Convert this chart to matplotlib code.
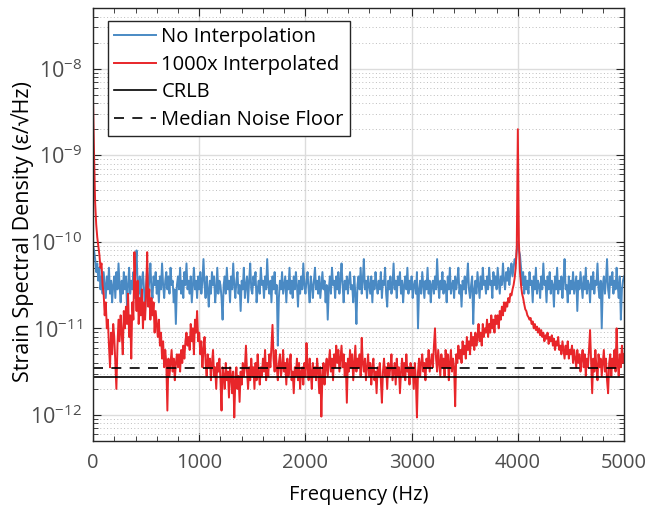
import matplotlib
matplotlib.use("Agg")
import matplotlib.pyplot as plt
import numpy as np
from matplotlib.ticker import MultipleLocator, LogLocator, NullFormatter

plt.rcParams['font.family'] = ['Open Sans', 'DejaVu Sans']

# frequency grid (Hz), one value every 10 Hz
freq = np.arange(0, 5001, 10)

# log10 of strain spectral density
no_interp_log = [
    -10.05, -10.10, -10.20, -10.35, -10.25, -10.45, -10.30, -10.55, -10.40, -10.60,
    -10.35, -10.50, -10.65, -10.40, -10.55, -10.30, -10.60, -10.45, -10.70, -10.50,
    -10.40, -10.65, -10.35, -10.55, -10.25, -10.50, -10.70, -10.45, -10.60, -10.35,
    -10.55, -10.40, -10.75, -10.50, -10.30, -10.60, -10.45, -10.55, -10.35, -10.65,
    -10.30, -10.10, -10.50, -10.60, -10.40, -10.70, -10.45, -10.35, -10.55, -10.80,
    -10.50, -10.30, -10.60, -10.45, -10.25, -10.55, -10.65, -10.40, -10.50, -10.35,
    -10.60, -10.45, -10.70, -10.40, -10.55, -10.25, -10.50, -10.65, -10.45, -10.35,
    -10.55, -10.40, -10.60, -10.30, -10.50, -10.45, -10.70, -10.55, -10.95, -10.50,
    -10.40, -10.55, -10.30, -10.60, -10.45, -10.65, -10.35, -10.50, -10.25, -10.55,
    -10.45, -10.60, -10.40, -10.70, -10.50, -10.30, -10.55, -10.45, -10.65, -10.40,
    -10.55, -10.35, -10.60, -10.45, -10.20, -10.50, -10.65, -10.40, -10.55, -10.75,
    -10.45, -10.60, -10.35, -10.50, -10.40, -10.70, -10.55, -10.30, -10.60, -10.45,
    -10.50, -10.65, -10.90, -10.50, -10.40, -10.60, -10.30, -10.55, -10.45, -10.70,
    -10.40, -10.55, -10.25, -10.50, -10.65, -10.45, -10.35, -10.60, -10.50, -10.80,
    -10.45, -10.55, -10.30, -10.65, -10.50, -10.40, -10.70, -10.45, -10.25, -10.55,
    -10.60, -10.40, -10.50, -10.35, -10.70, -10.55, -10.45, -10.60, -10.30, -10.50,
    -10.45, -10.65, -10.40, -10.55, -10.20, -10.50, -10.60, -10.45, -10.70, -10.40,
    -10.55, -10.35, -10.60, -10.50, -11.20, -10.65, -10.45, -10.55, -10.35, -10.60,
    -10.50, -10.40, -10.70, -10.45, -10.55, -10.30, -10.60, -10.45, -10.65, -10.40,
    -10.55, -10.35, -10.50, -10.75, -10.45, -10.60, -10.40, -10.55, -10.25, -10.50,
    -10.60, -10.45, -10.35, -10.55, -10.70, -10.40, -10.50, -10.65, -10.45, -10.30,
    -10.55, -10.45, -10.60, -10.40, -10.65, -10.50, -10.35, -10.55, -10.45, -10.70,
    -10.50, -10.90, -10.55, -10.40, -10.60, -10.30, -10.50, -10.45, -10.65, -10.40,
    -10.55, -10.35, -10.60, -10.45, -10.25, -10.50, -10.70, -10.45, -10.55, -10.40,
    -10.60, -10.45, -10.35, -10.55, -10.50, -10.70, -10.40, -10.60, -10.95, -10.50,
    -10.40, -10.55, -10.30, -10.60, -10.45, -10.20, -10.55, -10.45, -10.65, -10.40,
    -10.50, -10.60, -10.40, -10.70, -10.45, -10.55, -10.35, -10.50, -10.60, -10.45,
    -10.55, -10.35, -10.65, -10.45, -10.50, -10.30, -10.60, -10.75, -10.45, -10.55,
    -10.40, -10.60, -10.50, -10.25, -10.55, -10.45, -10.65, -10.40, -10.50, -10.35,
    -10.60, -10.45, -10.70, -10.50, -10.40, -10.55, -10.30, -10.60, -10.45, -10.55,
    -10.40, -10.65, -10.50, -10.45, -10.60, -10.35, -11.00, -10.55, -10.45, -10.60,
    -10.35, -10.50, -10.65, -10.45, -10.55, -10.30, -10.60, -10.45, -10.70, -10.50,
    -10.45, -10.60, -10.40, -10.55, -10.20, -10.50, -10.65, -10.45, -10.55, -10.35,
    -10.60, -10.45, -10.50, -10.70, -10.40, -10.55, -10.30, -10.60, -10.50, -10.45,
    -10.65, -10.40, -10.55, -10.45, -10.30, -10.60, -10.50, -10.75, -10.45, -10.55,
    -10.40, -10.60, -10.45, -10.25, -10.55, -10.65, -10.50, -10.40, -10.95, -10.55,
    -10.45, -10.60, -10.35, -10.50, -10.65, -10.40, -10.55, -10.30, -10.50, -10.45,
    -10.60, -10.40, -10.55, -10.30, -10.50, -10.45, -10.65, -10.35, -10.50, -10.40,
    -10.55, -10.30, -10.45, -10.60, -10.40, -10.50, -10.25, -10.45, -10.55, -10.35,
    -10.45, -10.30, -10.50, -10.35, -10.25, -10.40, -10.30, -10.20, -10.25, -10.10,
    -10.00, -10.10, -10.15, -10.30, -10.50, -10.35, -10.60, -10.40, -10.55, -10.45,
    -10.60, -10.35, -10.50, -10.45, -10.70, -10.40, -10.55, -10.30, -10.60, -10.45,
    -10.50, -10.65, -10.40, -10.55, -10.25, -10.50, -10.45, -10.70, -10.40, -10.55,
    -10.35, -10.60, -10.45, -10.50, -10.75, -10.40, -10.55, -10.30, -10.60, -10.45,
    -10.55, -10.40, -10.65, -10.45, -10.20, -10.55, -10.50, -10.70, -10.40, -10.60,
    -10.45, -10.55, -10.35, -10.60, -10.50, -10.40, -10.80, -10.45, -10.55, -10.35,
    -10.50, -10.65, -10.40, -10.55, -10.30, -10.60, -10.45, -10.50, -10.70, -10.40,
    -10.55, -10.35, -10.60, -10.45, -10.50, -10.25, -10.55, -10.65, -10.45, -11.00,
    -10.50, -10.40, -10.60, -10.45, -10.20, -10.55, -10.65, -10.40, -10.50, -10.35,
    -10.60, -10.45, -10.55, -10.30, -10.50, -10.65, -10.40, -10.90, -10.55, -10.45,
    -10.40,
]

interp_log = [
    -8.37, -9.00, -9.55, -9.80, -9.95, -10.05, -10.15, -10.30, -10.25, -10.50,
    -10.60, -10.85, -10.70, -11.00, -10.90, -11.20, -11.45, -11.05, -11.30, -10.95,
    -11.10, -11.40, -11.70, -11.20, -10.90, -11.15, -10.85, -11.05, -11.30, -10.80,
    -11.00, -10.75, -10.95, -10.60, -11.10, -10.85, -11.35, -10.70, -10.90, -10.12,
    -10.55, -10.80, -10.45, -10.95, -10.65, -10.85, -10.55, -11.00, -10.70, -10.90,
    -10.60, -10.12, -10.75, -10.55, -10.90, -10.65, -10.85, -10.70, -11.05, -10.80,
    -10.95, -11.10, -10.90, -11.20, -11.05, -11.35, -11.15, -11.45, -11.25, -11.40,
    -11.95, -11.35, -11.55, -11.40, -11.25, -11.50, -11.35, -11.60, -11.40, -11.30,
    -11.45, -11.30, -11.50, -11.25, -11.40, -11.20, -11.35, -11.15, -11.05, -11.20,
    -11.10, -11.25, -10.95, -11.15, -11.00, -11.30, -10.90, -11.05, -10.80, -11.15,
    -11.05, -11.30, -11.15, -11.45, -11.25, -11.10, -11.40, -11.55, -11.30, -11.45,
    -11.35, -11.60, -11.40, -11.25, -11.55, -11.45, -11.70, -11.40, -11.50, -11.35,
    -11.60, -11.95, -11.45, -11.55, -11.70, -11.40, -11.60, -11.50, -11.80, -11.45,
    -11.55, -11.75, -11.50, -12.03, -11.60, -11.45, -11.70, -11.55, -11.85, -11.50,
    -11.65, -11.40, -11.55, -11.45, -11.20, -11.50, -11.70, -11.45, -11.60, -11.35,
    -11.55, -11.45, -11.70, -11.40, -11.60, -11.30, -11.50, -11.65, -11.45, -11.55,
    -11.35, -11.50, -11.25, -11.60, -11.40, -11.55, -11.30, -11.45, -11.20, -10.96,
    -11.35, -11.50, -11.25, -11.45, -11.60, -11.40, -11.30, -11.55, -11.45, -11.25,
    -11.50, -11.40, -11.65, -11.35, -11.55, -11.45, -11.30, -11.60, -11.50, -11.75,
    -11.45, -11.55, -11.35, -11.60, -11.40, -11.70, -11.50, -11.45, -11.65, -11.40,
    -11.55, -11.17, -11.45, -11.60, -11.35, -11.50, -11.70, -11.40, -11.55, -11.45,
    -11.60, -11.35, -11.50, -11.75, -11.45, -12.02, -11.55, -11.40, -11.65, -11.45,
    -11.35, -11.55, -11.40, -11.25, -11.50, -11.35, -11.60, -11.30, -11.45, -11.20,
    -11.40, -11.25, -11.50, -11.35, -11.20, -11.45, -11.30, -11.55, -11.40, -11.86,
    -11.35, -11.50, -11.25, -11.45, -11.30, -11.60, -11.40, -11.20, -11.50, -11.35,
    -11.45, -11.30, -11.55, -11.11, -11.40, -11.50, -11.35, -11.60, -11.45, -11.30,
    -11.55, -11.40, -11.65, -11.45, -11.35, -11.60, -11.50, -11.75, -11.45, -11.55,
    -11.40, -11.60, -11.86, -11.50, -11.35, -11.55, -11.45, -11.70, -11.40, -11.55,
    -11.45, -11.30, -11.60, -11.50, -11.40, -11.65, -11.35, -11.55, -11.45, -11.75,
    -11.50, -11.35, -11.55, -11.40, -11.60, -11.30, -11.50, -11.45, -11.65, -11.40,
    -11.55, -11.45, -11.70, -11.40, -11.60, -12.03, -11.50, -11.35, -11.55, -11.40,
    -11.30, -11.50, -11.40, -11.60, -11.35, -11.45, -11.25, -11.50, -11.40, -11.30,
    -11.45, -11.20, -11.00, -11.35, -11.50, -11.25, -11.40, -11.55, -11.30, -11.45,
    -11.35, -11.55, -11.25, -11.45, -11.30, -11.60, -11.40, -11.25, -11.50, -11.35,
    -11.45, -11.90, -11.30, -11.40, -11.20, -11.35, -11.25, -11.40, -11.15, -11.30,
    -11.20, -11.35, -11.10, -11.25, -11.15, -11.30, -11.05, -11.20, -11.10, -11.25,
    -11.05, -11.20, -11.10, -10.95, -11.15, -11.05, -11.20, -10.95, -11.10, -11.00,
    -11.05, -10.90, -11.10, -10.95, -11.05, -10.85, -11.00, -10.90, -11.05, -10.85,
    -10.95, -10.85, -11.00, -10.80, -10.90, -10.75, -10.85, -10.70, -10.80, -10.70,
    -10.75, -10.65, -10.70, -10.60, -10.62, -10.55, -10.50, -10.42, -10.30, -10.05,
    -8.70, -10.00, -10.35, -10.50, -10.60, -10.65, -10.72, -10.78, -10.80, -10.85,
    -10.87, -10.90, -10.88, -10.95, -10.92, -11.00, -10.95, -11.02, -10.98, -11.05,
    -11.00, -11.08, -11.02, -11.10, -11.05, -11.15, -11.08, -11.12, -11.05, -11.18,
    -11.10, -11.15, -11.08, -11.20, -11.12, -11.25, -11.15, -11.20, -11.10, -11.25,
    -11.20, -11.30, -11.15, -11.25, -11.35, -11.20, -11.30, -11.15, -11.35, -11.25,
    -11.30, -11.20, -11.40, -11.25, -11.35, -11.45, -11.25, -11.40, -11.30, -11.50,
    -11.35, -11.25, -11.45, -11.30, -11.55, -11.35, -11.45, -11.25, -11.02, -11.40,
    -11.75, -11.35, -11.50, -11.25, -11.45, -11.60, -11.30, -11.45, -11.35, -11.55,
    -11.40, -11.25, -11.50, -11.35, -11.60, -11.75, -11.40, -11.30, -11.55, -11.35,
    -11.45, -11.25, -11.50, -11.00, -11.40, -11.55, -11.30, -11.45, -11.20, -11.40,
    -11.30,
]

crlb = 2.77e-12
median_floor = 3.49e-12

fig = plt.figure(figsize=(6.46, 5.08), dpi=100)
ax = fig.add_axes([0.144, 0.132, 0.822, 0.852])

ax.semilogy(freq, 10 ** np.array(no_interp_log), color='#4a8ac4', lw=1.4, label='No Interpolation')
ax.semilogy(freq, 10 ** np.array(interp_log), color='#e8262a', lw=1.4, label='1000x Interpolated')
ax.axhline(crlb, color='black', lw=1.2, label='CRLB')
ax.axhline(median_floor, color='black', lw=1.2, ls=(0, (6, 5)), label='Median Noise Floor')

ax.set_xlim(0, 5000)
ax.set_ylim(5e-13, 5e-8)
ax.set_xticks([0, 1000, 2000, 3000, 4000, 5000])
ax.xaxis.set_minor_locator(MultipleLocator(200))
ax.set_yticks([1e-12, 1e-11, 1e-10, 1e-9, 1e-8])
ax.yaxis.set_minor_locator(LogLocator(base=10, subs=np.arange(2, 10), numticks=10))
ax.yaxis.set_minor_formatter(NullFormatter())

ax.grid(True, which='major', color='#dcdcdc', lw=1.0)
ax.grid(True, which='minor', axis='y', color='#bdbdbd', lw=0.7, ls=(0, (1, 2.5)))
ax.set_axisbelow(True)

ax.tick_params(which='both', direction='in', top=True, right=True, colors='#262626',
               labelcolor='#4d4d4d')
ax.tick_params(which='major', length=6)
ax.tick_params(which='minor', length=3.5)
ax.tick_params(axis='x', which='major', pad=9, labelsize=14.5)
ax.tick_params(axis='y', which='major', pad=8, labelsize=15.5)
for s in ax.spines.values():
    s.set_color('#262626')
    s.set_linewidth(1.0)

ax.set_xlabel('Frequency (Hz)', fontsize=14.5, labelpad=8)
ax.set_ylabel('Strain Spectral Density (ε/√Hz)', fontsize=15.5)
ax.yaxis.set_label_coords(-0.112, 0.483)

leg = ax.legend(loc='upper left', bbox_to_anchor=(0.028, 0.97), fontsize=14.5,
                frameon=True, fancybox=False, framealpha=1, edgecolor='#262626',
                handlelength=2.1, handletextpad=0.25, borderpad=0.3, labelspacing=0.38,
                borderaxespad=0)
leg.get_frame().set_linewidth(1.0)

fig.savefig('out.png', dpi=100)
